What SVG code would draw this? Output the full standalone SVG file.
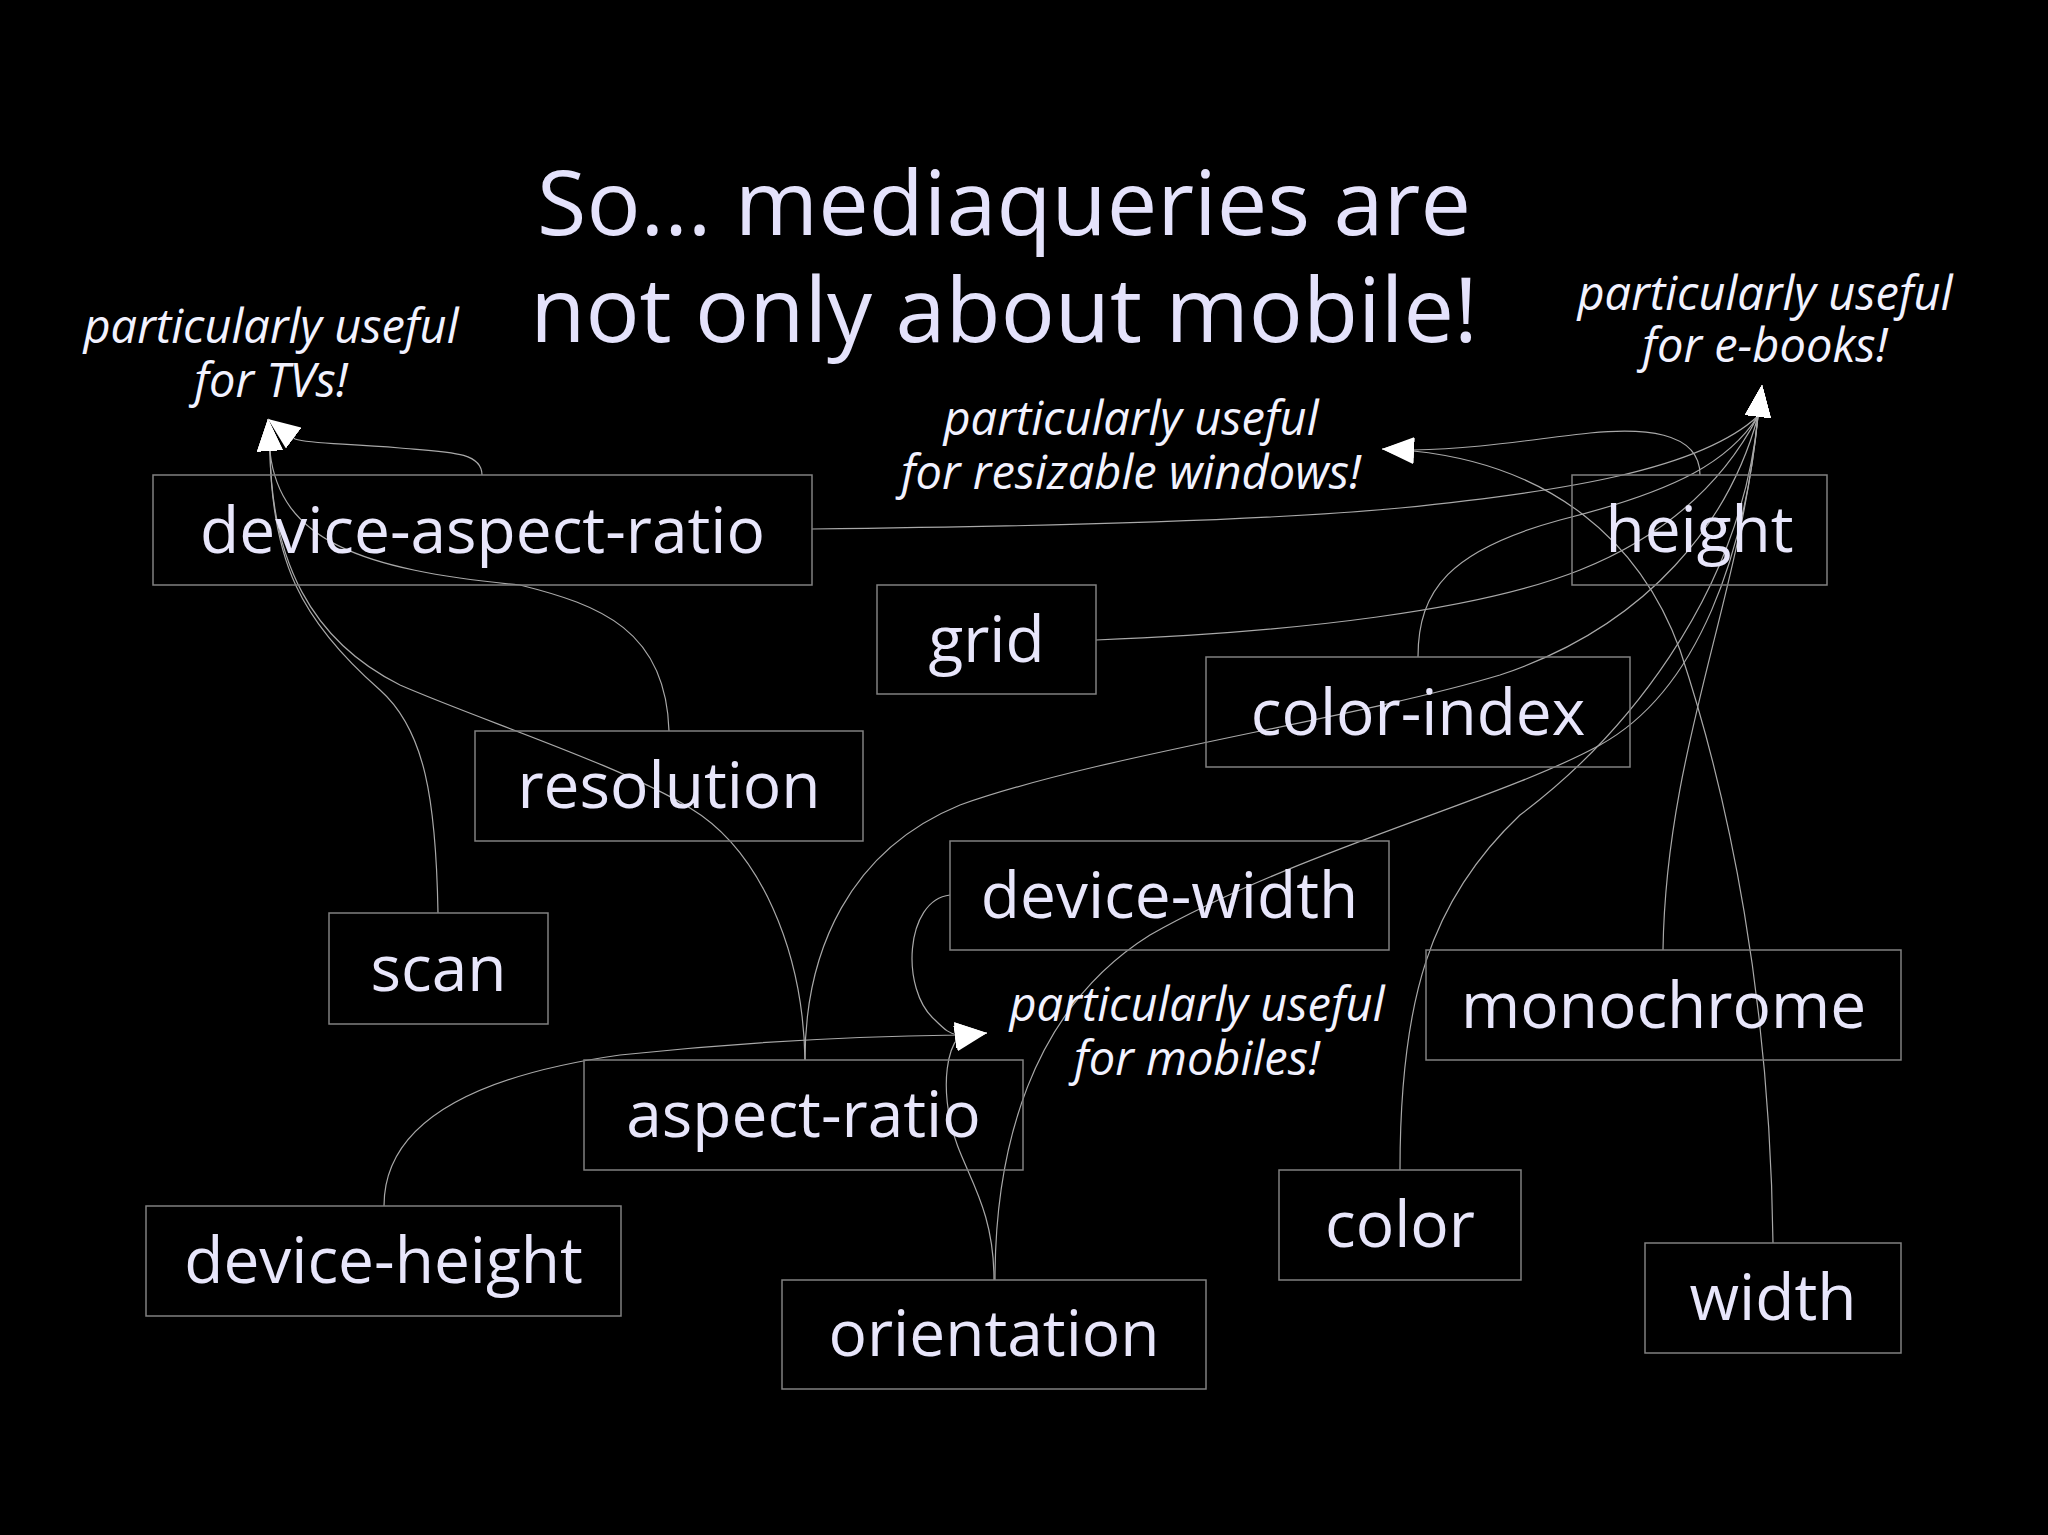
<svg xmlns="http://www.w3.org/2000/svg" width="2048" height="1535" viewBox="0 0 2048 1535">
<style>
.box{fill:#000;stroke:#808080;stroke-width:1.5}
.lbl{font-family:"Open Sans","DejaVu Sans",sans-serif;font-size:64px;fill:#e8e6fb;text-anchor:middle}
.title{font-family:"Open Sans","DejaVu Sans",sans-serif;font-size:90px;fill:#e4e2fb;text-anchor:middle}
.note{font-family:"Open Sans","DejaVu Sans",sans-serif;font-style:italic;font-size:47px;fill:#f2f2ff;text-anchor:middle}
.edge{fill:none;stroke:#a8a8a8;stroke-width:1.2;marker-end:url(#arr)}
</style>
<defs>
<marker id="arr" markerUnits="userSpaceOnUse" markerWidth="32" markerHeight="26" viewBox="0 0 32 26" refX="32" refY="13" orient="auto">
<path d="M0,0L32,13L0,26z" fill="#ffffff"/>
</marker>
</defs>
<rect x="0" y="0" width="2048" height="1535" fill="#000"/>

<g id="title">
<text class="title" x="1004" y="235">So... mediaqueries are</text>
<text class="title" x="1004" y="342">not only about mobile!</text>
</g>

<g id="connectors">
<!-- to TVs -->
<path class="edge" d="M482,475 C482,452 450,452 400,448 C340,443 310,444 295,439 L268,419"/>
<path class="edge" d="M438,913 C436,800 425,730 380,690 C300,620 272,560 270,452 L268,419"/>
<path class="edge" d="M669,731 C666,630 600,605 520,585 C360,570 280,540 270,452 L268,419"/>
<path class="edge" d="M805,1060 C803,950 760,850 690,808 C620,765 480,720 400,685 C310,640 272,560 270,452 L268,419"/>
<!-- to resizable windows -->
<path class="edge" d="M1700,475 C1700,430 1640,428 1590,433 C1540,438 1480,449 1413,450 L1382,449"/>
<path class="edge" d="M1773,1243 C1770,1000 1730,800 1680,650 C1640,540 1550,465 1413,451 L1382,449"/>
<!-- to e-books -->
<path class="edge" d="M812,529 C1000,527 1250,522 1400,508 C1560,492 1700,470 1758,416 L1762,385"/>
<path class="edge" d="M1096,640 C1300,632 1480,610 1580,570 C1680,530 1730,470 1758,416 L1762,385"/>
<path class="edge" d="M1418,657 C1418,590 1450,550 1560,520 C1680,490 1730,460 1758,416 L1762,385"/>
<path class="edge" d="M805,1060 C805,950 850,850 960,805 C1100,755 1350,720 1500,675 C1650,625 1730,520 1758,416 L1762,385"/>
<path class="edge" d="M995,1280 C995,1150 1030,1010 1150,935 C1300,850 1500,800 1600,745 C1700,690 1745,550 1758,416 L1762,385"/>
<path class="edge" d="M1400,1170 C1400,1000 1430,900 1520,815 C1620,740 1740,600 1758,416 L1762,385"/>
<path class="edge" d="M1663,950 C1666,750 1740,600 1758,416 L1762,385"/>
<!-- to mobiles -->
<path class="edge" d="M950,895 C905,900 900,990 935,1020 C945,1030 950,1034 958,1035 L987,1033"/>
<path class="edge" d="M384,1206 C384,1120 480,1075 620,1055 C760,1040 880,1036 958,1035 L987,1033"/>
<path class="edge" d="M994,1280 C994,1200 960,1170 950,1120 C942,1080 948,1050 958,1038 L987,1033"/>
</g>

<g id="note-tv">
<text class="note" x="271" y="343">particularly useful</text>
<text class="note" x="271" y="397">for TVs!</text>
</g>
<g id="note-ebooks">
<text class="note" x="1765" y="310">particularly useful</text>
<text class="note" x="1765" y="362">for e-books!</text>
</g>
<g id="note-resizable">
<text class="note" x="1131" y="435">particularly useful</text>
<text class="note" x="1131" y="489">for resizable windows!</text>
</g>
<g id="note-mobiles">
<text class="note" x="1197" y="1021">particularly useful</text>
<text class="note" x="1197" y="1075">for mobiles!</text>
</g>

<g id="node-device-aspect-ratio"><rect class="box" x="153" y="475" width="659" height="110" fill-opacity="0"/><text class="lbl" x="482.5" y="553">device-aspect-ratio</text></g>
<g id="node-grid"><rect class="box" x="877" y="585" width="219" height="109" fill-opacity="0"/><text class="lbl" x="986.5" y="662">grid</text></g>
<g id="node-height"><rect class="box" x="1572" y="475" width="255" height="110" fill-opacity="0"/><text class="lbl" x="1699.5" y="552">height</text></g>
<g id="node-color-index"><rect class="box" x="1206" y="657" width="424" height="110" fill-opacity="0"/><text class="lbl" x="1418" y="735">color-index</text></g>
<g id="node-resolution"><rect class="box" x="475" y="731" width="388" height="110" fill-opacity="0"/><text class="lbl" x="669" y="808">resolution</text></g>
<g id="node-scan"><rect class="box" x="329" y="913" width="219" height="111" fill-opacity="0"/><text class="lbl" x="438.5" y="991">scan</text></g>
<g id="node-device-width"><rect class="box" x="950" y="841" width="439" height="109" fill-opacity="0"/><text class="lbl" x="1169.5" y="918">device-width</text></g>
<g id="node-aspect-ratio"><rect class="box" x="584" y="1060" width="439" height="110" fill-opacity="0"/><text class="lbl" x="803.5" y="1137">aspect-ratio</text></g>
<g id="node-device-height"><rect class="box" x="146" y="1206" width="475" height="110" fill-opacity="0"/><text class="lbl" x="383.5" y="1283">device-height</text></g>
<g id="node-orientation"><rect class="box" x="782" y="1280" width="424" height="109" fill-opacity="0"/><text class="lbl" x="994" y="1356">orientation</text></g>
<g id="node-monochrome"><rect class="box" x="1426" y="950" width="475" height="110" fill-opacity="0"/><text class="lbl" x="1663.5" y="1028">monochrome</text></g>
<g id="node-color"><rect class="box" x="1279" y="1170" width="242" height="110" fill-opacity="0"/><text class="lbl" x="1400" y="1247">color</text></g>
<g id="node-width"><rect class="box" x="1645" y="1243" width="256" height="110" fill-opacity="0"/><text class="lbl" x="1773" y="1320">width</text></g>
</svg>
